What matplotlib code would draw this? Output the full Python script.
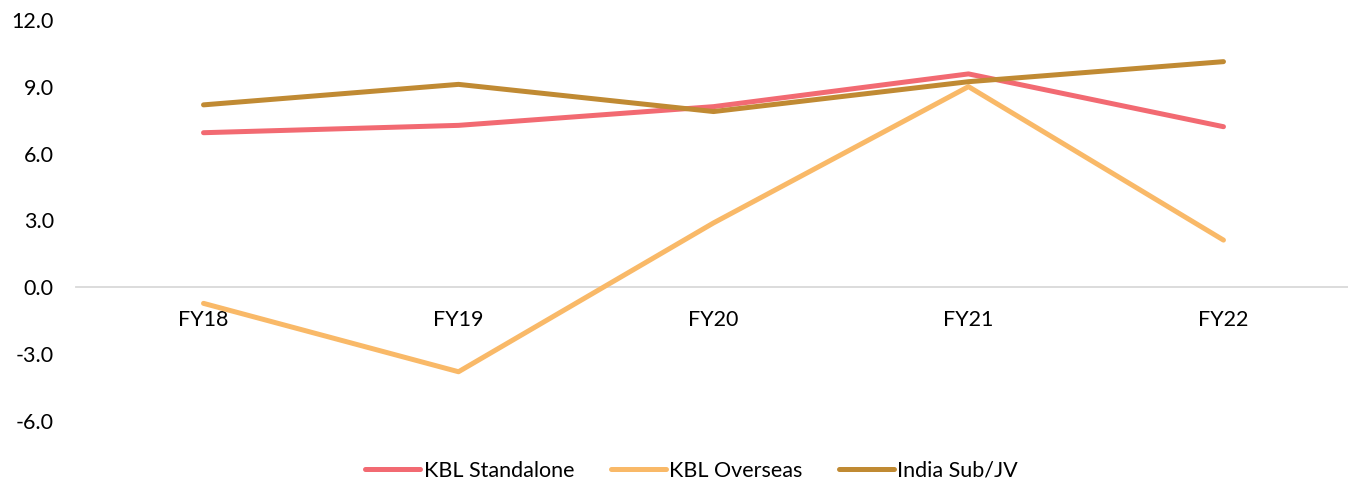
import numpy as np
import matplotlib
matplotlib.use('Agg')
import matplotlib.pyplot as plt

plt.rcParams['font.family'] = ['Lato', 'DejaVu Sans']

years = ['FY18', 'FY19', 'FY20', 'FY21', 'FY22']
kbl_standalone = [6.94, 7.27, 8.11, 9.58, 7.21]
kbl_overseas = [-0.72, -3.79, 2.89, 9.01, 2.12]
india_sub_jv = [8.19, 9.11, 7.89, 9.23, 10.13]

series = [
    ('KBL Standalone', kbl_standalone, '#F26A72'),
    ('KBL Overseas', kbl_overseas, '#F9B968'),
    ('India Sub/JV', india_sub_jv, '#C08A33'),
]

fig = plt.figure(figsize=(13.48, 4.84), dpi=100)
ax = fig.add_axes([0.0564, 0.1302, 0.9458, 0.8285])

x = np.arange(len(years))
for name, vals, col in series:
    ax.plot(x, vals, color=col, lw=3.6, solid_capstyle='round',
            solid_joinstyle='round', label=name)

ax.set_xlim(-0.5, len(years) - 0.5)
ax.set_ylim(-6, 12)
ax.set_yticks(np.arange(-6, 12.1, 3))
ax.set_yticklabels([f'{v:.1f}' for v in np.arange(-6, 12.1, 3)])
ax.set_xticks(x)
ax.set_xticklabels(years)

# category axis sits on the zero line
for s in ['top', 'right', 'left']:
    ax.spines[s].set_visible(False)
ax.spines['bottom'].set_position(('data', 0))
ax.spines['bottom'].set_color('#D9D9D9')
ax.spines['bottom'].set_linewidth(1.3)
ax.spines['bottom'].set_zorder(0)

ax.tick_params(axis='x', length=0, pad=16, labelsize=15.5, labelcolor='#000000')
ax.tick_params(axis='y', length=0, pad=16, labelsize=15.5, labelcolor='#000000')

fig.legend(loc='center', bbox_to_anchor=(0.513, 0.027), ncol=3, frameon=False,
           fontsize=15.5, handlelength=2.55, columnspacing=1.7, handletextpad=0.15)

fig.savefig('out.png', dpi=100)
